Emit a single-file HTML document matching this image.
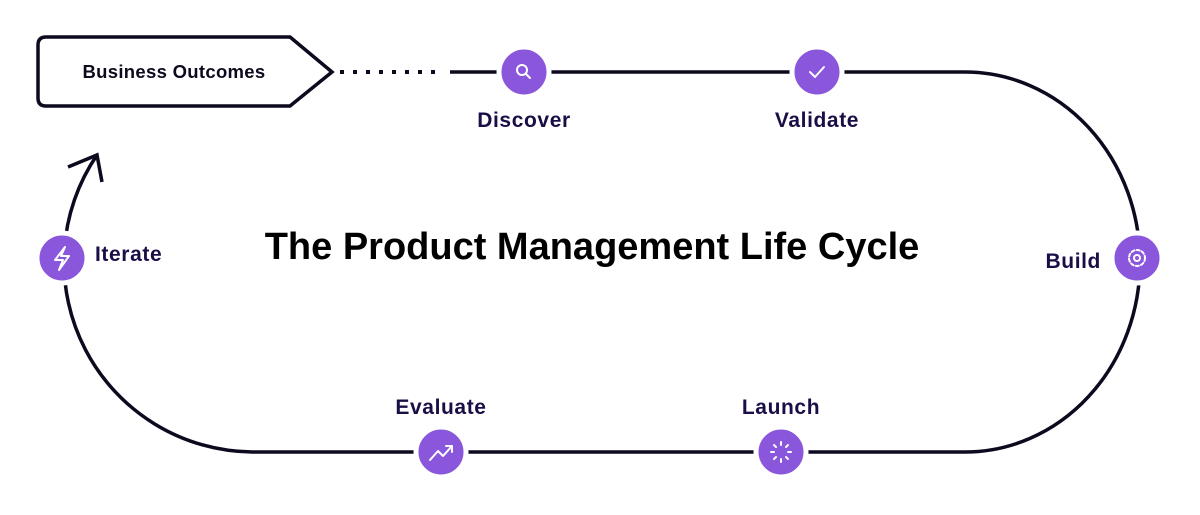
<!DOCTYPE html>
<html><head><style>
body{margin:0;background:#fff;}
svg{display:block}
.l{font-family:"Liberation Sans",sans-serif;font-weight:700;fill:#1b0e47;font-size:21px;letter-spacing:0.6px}
</style></head><body>
<svg width="1200" height="515" viewBox="0 0 1200 515">
<g fill="none" stroke="#0c0a1e" stroke-width="3.5">
<path d="M46 37 H290 L332 72 L290 106 H46 Q38 106 38 98 V45 Q38 37 46 37 Z"/>
<path d="M340 72 H440" stroke-dasharray="4 9" stroke-width="4"/>
<path d="M450 72 H965 A175 190 0 0 1 965 452 H252 A190 190 0 0 1 97 155"/>
<path d="M68 167 L97 155 L102 182"/>
</g>
<text x="174" y="78" text-anchor="middle" font-family="Liberation Sans,sans-serif" font-weight="700" font-size="18.5" letter-spacing="0.3" fill="#0c0a1e">Business Outcomes</text>
<text x="592" y="259" text-anchor="middle" font-family="Liberation Sans,sans-serif" font-weight="700" font-size="38" fill="#000">The Product Management Life Cycle</text>
<g fill="#8a56dc" stroke="#fff" stroke-width="5">
<circle cx="524" cy="72" r="25"/><circle cx="817" cy="72" r="25"/><circle cx="1137" cy="258" r="25"/>
<circle cx="781" cy="452" r="25"/><circle cx="441" cy="452" r="25"/><circle cx="62" cy="258" r="25"/>
</g>
<g fill="none" stroke="#fff" stroke-width="2" stroke-linecap="round" stroke-linejoin="round">
<circle cx="522" cy="70" r="5"/><path d="M526 74 L530 78"/>
<path d="M810 72 L815 77 L824 67"/>
<circle cx="1137" cy="258" r="3"/><circle cx="1137" cy="258" r="8" stroke-dasharray="3 2.3"/>
<path d="M781 442v3M781 459v3M771 452h3M788 452h3M774 445l2 2M786 457l2 2M788 445l-2 2M774 459l2-2"/>
<path d="M430 460 L438 451 L443 456 L452 446 M446 446 H452 V452"/>
<path d="M65 247 L55 260 H63 L59 270 L69 256 H61 Z"/>
</g>
<text class="l" x="524" y="127" text-anchor="middle">Discover</text>
<text class="l" x="817" y="127" text-anchor="middle">Validate</text>
<text class="l" x="1101" y="268" text-anchor="end">Build</text>
<text class="l" x="781" y="414" text-anchor="middle">Launch</text>
<text class="l" x="441" y="414" text-anchor="middle">Evaluate</text>
<text class="l" x="95" y="261">Iterate</text>
</svg>
</body></html>
